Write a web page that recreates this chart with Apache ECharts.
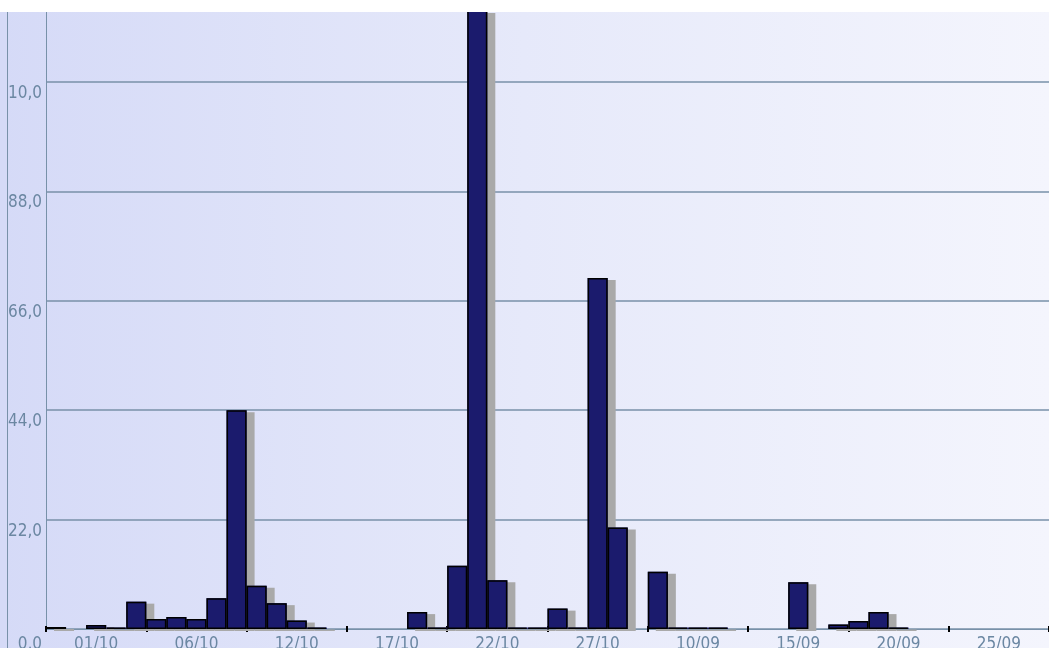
<!DOCTYPE html>
<html>
<head>
<meta charset="utf-8">
<script src="https://cdn.jsdelivr.net/npm/echarts@6/dist/echarts.min.js"></script>
<style>
  html, body { margin: 0; padding: 0; background: #ffffff; }
  #chart { width: 1049px; height: 648px; }
</style>
</head>
<body>
<div id="chart"></div>
<script>
// Daily totals, one slot per day; null = no reading that day
const values = [
  0.4, null, 0.8, 0.3, 5.5, 2.0, 2.4, 2.0, 6.2, 44.0,
  8.7, 5.2, 1.7, 0.3, null, null, null, null, 3.4, 0.3,
  12.7, 140.0, 9.8, 0.3, 0.3, 4.1, 0.3, 70.6, 20.4, null,
  11.5, 0.3, 0.3, 0.3, null, null, null, 9.4, null, 0.9,
  1.6, 3.4, 0.3, null, null, null, null, null, null, null
];

// Date labels shown under every fifth day (third day of each group)
const tickLabels = ['01/10', '06/10', '12/10', '17/10', '22/10', '27/10', '10/09', '15/09', '20/09', '25/09'];
const labelOffset = 2;
const groupSize = 5;

const categories = values.map(function (v, i) {
  return (i % groupSize === labelOffset) ? tickLabels[Math.floor(i / groupSize)] : '';
});

const yStep = 22;
const yMax = 124.3;

const textFont = '"DejaVu Sans Condensed", "DejaVu Sans", sans-serif';
const textColor = '#6b87a2';
const lineColor = '#7891a9';

const chart = echarts.init(document.getElementById('chart'), null, { renderer: 'canvas' });

chart.setOption({
  animation: false,
  backgroundColor: '#ffffff',
  graphic: [
    {
      type: 'rect', z: -10, silent: true,
      shape: { x: 0, y: 12, width: 1049, height: 636 },
      style: {
        fill: new echarts.graphic.LinearGradient(0, 0, 1, 0, [
          { offset: 0, color: '#d5daf7' },
          { offset: 0.5, color: '#e6e9fa' },
          { offset: 1, color: '#f4f5fd' }
        ])
      }
    },
    {
      type: 'rect', z: 100, silent: true,
      shape: { x: 0, y: 12, width: 7, height: 636 },
      style: { fill: '#d5daf7' }
    },
    {
      type: 'line', z: 100, silent: true,
      shape: { x1: 7.5, y1: 12, x2: 7.5, y2: 648 },
      style: { stroke: lineColor, lineWidth: 1 }
    },
    {
      type: 'rect', z: 100, silent: true,
      shape: { x: 0, y: 0, width: 1049, height: 12 },
      style: { fill: '#ffffff' }
    }
  ],
  grid: {
    left: 46, right: 0, top: 11, bottom: 19,
    containLabel: false,
    outerBoundsMode: 'none'
  },
  xAxis: [
    {
      type: 'category',
      data: categories,
      boundaryGap: true,
      axisLine: { show: true, lineStyle: { color: lineColor, width: 1 } },
      axisTick: {
        show: true,
        interval: function (i) { return i % groupSize === 0; },
        length: 3,
        lineStyle: { color: '#000000', width: 2 }
      },
      axisLabel: {
        show: true,
        interval: function (i) { return i % groupSize === labelOffset; },
        color: textColor,
        fontFamily: textFont,
        fontSize: 17,
        margin: 7
      },
      splitLine: { show: false }
    },
    {
      type: 'category',
      data: categories,
      position: 'bottom',
      boundaryGap: true,
      axisLine: { show: false },
      axisTick: {
        show: true,
        inside: true,
        interval: function (i) { return i % groupSize === 0; },
        length: 3,
        lineStyle: { color: '#000000', width: 2 }
      },
      axisLabel: { show: false },
      splitLine: { show: false }
    }
  ],
  yAxis: {
    type: 'value',
    min: 0,
    max: yMax,
    interval: yStep,
    axisLine: { show: true, lineStyle: { color: lineColor, width: 1 } },
    axisTick: { show: false },
    axisLabel: {
      color: textColor,
      fontFamily: textFont,
      fontSize: 17,
      margin: 4,
      verticalAlign: 'top',
      padding: [3, 0, 0, 0],
      showMaxLabel: false,
      formatter: function (v) {
        if (Math.abs(v / yStep - Math.round(v / yStep)) > 1e-6) return '';
        const s = v.toFixed(1).replace('.', ',');
        return v === 0 ? '{base|' + s + '}' : s;
      },
      rich: {
        base: {
          color: textColor,
          fontFamily: textFont,
          fontSize: 17,
          padding: [4, 0, 0, 0]
        }
      }
    },
    splitLine: { show: true, lineStyle: { color: lineColor, width: 1.5 } }
  },
  series: [
    {
      // filled bars casting a flat grey shadow to the lower right
      type: 'bar',
      data: values,
      barCategoryGap: 0,
      barGap: '-100%',
      clip: true,
      z: 2,
      itemStyle: {
        color: '#1b1b6d',
        borderWidth: 0,
        shadowColor: '#a9a9a9',
        shadowBlur: 0,
        shadowOffsetX: 8,
        shadowOffsetY: 2
      }
    },
    {
      // black outlines drawn over the filled bars
      type: 'bar',
      data: values,
      barCategoryGap: 0,
      barGap: '-100%',
      clip: true,
      z: 3,
      itemStyle: {
        color: 'rgba(0,0,0,0)',
        borderColor: '#000000',
        borderWidth: 1.5
      }
    }
  ]
});
</script>
</body>
</html>
